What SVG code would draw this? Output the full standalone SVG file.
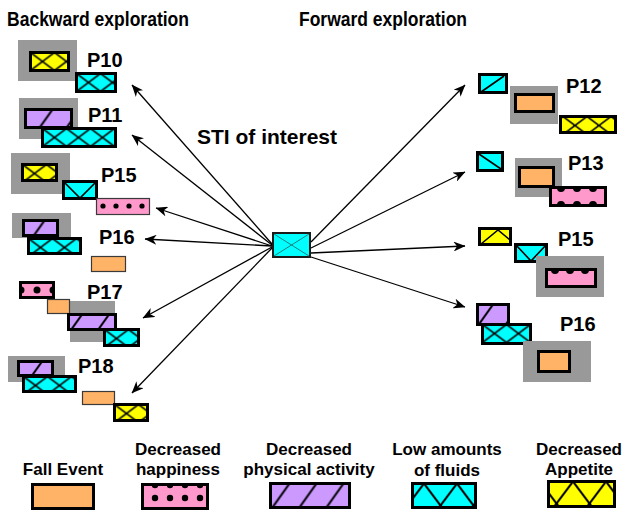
<svg xmlns="http://www.w3.org/2000/svg" width="624" height="513" viewBox="0 0 624 513">
<style>
.bg{fill:#ffffff}
.g{fill:#999999}
.bk{stroke:#000;stroke-width:3}
.tn{stroke:#3a3a3a;stroke-width:1.2}
.or{fill:#FFB366}
.pk{fill:#FF99CC}
.cy{fill:#00FFFF}
.ye{fill:#FFFF00}
.hx{fill:url(#hx)}
.hy{fill:url(#hy)}
.hp{fill:url(#hp)}
.hxL{fill:url(#hxL)}
.hyL{fill:url(#hyL)}
.ht{stroke:#000;stroke-width:1.6;fill:none}
.dot{fill:#000}
.t{font-family:"Liberation Sans",Arial,Helvetica,sans-serif;font-weight:bold;fill:#000}
.lb{font-size:20px}
.lg{font-size:17px;text-anchor:middle}
.arr{stroke:#000;stroke-width:1.3;fill:none;marker-end:url(#ah)}
</style>
<defs>
<marker id="ah" viewBox="0 0 12 10" refX="11.5" refY="5" markerWidth="12" markerHeight="10" markerUnits="userSpaceOnUse" orient="auto">
<path d="M0,0 L12,5 L0,10 L3.5,5 Z" fill="#000"/>
</marker>
<pattern id="hx" patternUnits="userSpaceOnUse" width="24" height="18">
<rect width="24" height="18" fill="#00FFFF"/>
<path d="M0,0L24,18M24,0L0,18" stroke="#000" stroke-width="1.6"/>
</pattern>
<pattern id="hy" patternUnits="userSpaceOnUse" width="24" height="18">
<rect width="24" height="18" fill="#FFFF00"/>
<path d="M0,0L24,18M24,0L0,18" stroke="#000" stroke-width="1.6"/>
</pattern>
<pattern id="hxL" patternUnits="userSpaceOnUse" width="33" height="44">
<rect width="33" height="44" fill="#00FFFF"/>
<path d="M0,0L33,44M33,0L0,44" stroke="#000" stroke-width="2"/>
</pattern>
<pattern id="hyL" patternUnits="userSpaceOnUse" width="33" height="44">
<rect width="33" height="44" fill="#FFFF00"/>
<path d="M0,0L33,44M33,0L0,44" stroke="#000" stroke-width="2"/>
</pattern>
<pattern id="hp" patternUnits="userSpaceOnUse" width="27" height="38">
<rect width="27" height="38" fill="#CC99FF"/>
<path d="M0,38L27,0M-27,38L0,0M27,38L54,0" stroke="#000" stroke-width="2"/>
</pattern>
</defs>
<rect class="bg" width="624" height="513"/>

<text class="t lb" x="7" y="26" textLength="182" lengthAdjust="spacingAndGlyphs">Backward exploration</text>
<text class="t lb" x="299" y="26" textLength="168" lengthAdjust="spacingAndGlyphs">Forward exploration</text>
<text class="t" font-size="21" x="197" y="144">STI of interest</text>

<g id="connectors">
<path class="arr" d="M272,244 L132,85"/>
<path class="arr" d="M272,245 L132,135"/>
<path class="arr" d="M272,246 L156,208"/>
<path class="arr" d="M272,246 L145,239"/>
<path class="arr" d="M272,247 L143,318"/>
<path class="arr" d="M272,248 L132,393"/>
<path class="arr" d="M311,242 L465,85"/>
<path class="arr" d="M311,248 L465,172"/>
<path class="arr" d="M311,253 L465,246"/>
<path class="arr" d="M311,257 L465,307"/>
</g>

<g id="sti">
<rect x="273" y="233" width="37" height="24" fill="#00FFFF" stroke="#1a1a1a" stroke-width="2"/>
<path d="M274,234 L309,256 M309,234 L274,256" stroke="#1b8080" stroke-width="1" fill="none"/>
</g>

<g id="back-p10">
<rect class="g" x="18" y="40" width="59" height="41"/>
<rect class="hy bk" transform="translate(30.5,52.5)" width="38" height="18"/>
<rect class="hx bk" transform="translate(76.5,73.5)" width="39" height="18"/>
<text class="t lb" x="87" y="67">P10</text>
</g>

<g id="back-p11">
<rect class="g" x="19" y="98" width="59" height="41"/>
<rect class="hp bk" transform="translate(25.5,109.5)" width="46" height="18"/>
<rect class="hx bk" transform="translate(42.5,128.5)" width="73" height="18"/>
<text class="t lb" x="88" y="122">P11</text>
</g>

<g id="back-p15">
<rect class="g" x="11" y="153" width="59" height="41"/>
<rect class="hy bk" transform="translate(22.5,164.5)" width="34" height="16"/>
<rect class="cy bk" x="63.5" y="181.5" width="33" height="17"/>
<path class="ht" d="M64,182 L80,198 L96,182"/>
<rect class="pk tn" x="96.5" y="198.5" width="53" height="16"/>
<circle class="dot" cx="103" cy="206" r="2.6"/>
<circle class="dot" cx="116" cy="206" r="2.6"/>
<circle class="dot" cx="129" cy="206" r="2.6"/>
<circle class="dot" cx="142" cy="206" r="2.6"/>
<text class="t lb" x="101" y="182">P15</text>
</g>

<g id="back-p16">
<rect class="g" x="12" y="213" width="59" height="25"/>
<rect class="hp bk" transform="translate(17.5,220.5)" x="6" width="34" height="15"/>
<rect class="hx bk" transform="translate(28.5,238.5)" width="52" height="15"/>
<rect class="or tn" x="91.5" y="256.5" width="34" height="15"/>
<text class="t lb" x="99" y="244">P16</text>
</g>

<g id="back-p17">
<rect class="g" x="70" y="301" width="45" height="41"/>
<rect class="pk bk" x="20.5" y="282.5" width="33" height="15"/>
<circle class="dot" cx="37" cy="290" r="3.5"/>
<path class="dot" d="M21,286.5 A3.5,3.5 0 0 1 21,293.5 Z M53,286.5 A3.5,3.5 0 0 0 53,293.5 Z"/>
<rect class="or tn" x="47.5" y="299.5" width="22" height="14"/>
<rect class="hp bk" transform="translate(55,314.5)" x="13.5" width="47" height="15"/>
<rect class="hx bk" transform="translate(104.5,329.5)" width="34" height="16"/>
<text class="t lb" x="87" y="299">P17</text>
</g>

<g id="back-p18">
<rect class="g" x="8" y="356" width="57" height="26"/>
<rect class="hp bk" transform="translate(15,361.5)" x="3.5" width="34" height="14"/>
<rect class="hx bk" transform="translate(23.5,376.5)" width="52" height="15"/>
<rect class="or tn" x="82.5" y="391.5" width="32" height="13"/>
<rect class="hy bk" transform="translate(114.5,404.5)" width="33" height="16"/>
<text class="t lb" x="78" y="373">P18</text>
</g>

<g id="fwd-p12">
<rect class="cy bk" x="479.5" y="74.5" width="27" height="18"/>
<path class="ht" d="M481,92 L504,76"/>
<rect class="g" x="510" y="86" width="48" height="38"/>
<rect class="or bk" x="515.5" y="94.5" width="38" height="17"/>
<rect class="hy bk" transform="translate(563,116.5)" x="-2.5" width="55" height="16"/>
<text class="t lb" x="566" y="93">P12</text>
</g>

<g id="fwd-p13">
<rect class="cy bk" x="477.5" y="152.5" width="25" height="18"/>
<path class="ht" d="M479,154 L501,169"/>
<rect class="g" x="515" y="158" width="47" height="39"/>
<rect class="or bk" x="519.5" y="167.5" width="34" height="19"/>
<rect class="pk bk" x="550.5" y="187.5" width="55" height="18"/>
<path class="dot" d="M557,188 A4,4 0 0 0 565,188 Z M573,188 A4,4 0 0 0 581,188 Z M589,188 A4,4 0 0 0 597,188 Z M557,205 A4,4 0 0 1 565,205 Z M573,205 A4,4 0 0 1 581,205 Z M589,205 A4,4 0 0 1 597,205 Z"/>
<text class="t lb" x="568" y="170">P13</text>
</g>

<g id="fwd-p15">
<rect class="ye bk" x="479.5" y="228.5" width="31" height="16"/>
<path class="ht" d="M481,244 L498,230 L510,240"/>
<rect class="cy bk" x="515.5" y="244.5" width="31" height="17"/>
<path class="ht" d="M516,245 L531,261 L546,245"/>
<rect class="g" x="536" y="256" width="68" height="41"/>
<rect class="pk bk" x="546.5" y="269.5" width="49" height="17"/>
<path class="dot" d="M551,270 A4,4 0 0 0 559,270 Z M566,270 A4,4 0 0 0 574,270 Z M581,270 A4,4 0 0 0 589,270 Z"/>
<text class="t lb" x="558" y="246">P15</text>
</g>

<g id="fwd-p16">
<rect class="hp bk" transform="translate(466,304.5)" x="11.5" width="31" height="20"/>
<rect class="hx bk" transform="translate(482.5,324.5)" width="48" height="19"/>
<rect class="g" x="523" y="341" width="68" height="41"/>
<rect class="or bk" x="538.5" y="351.5" width="31" height="20"/>
<text class="t lb" x="560" y="331">P16</text>
</g>

<g id="legend">
<g id="leg-fall">
<text class="t lg" x="63" y="475">Fall Event</text>
<rect class="or bk" x="32.5" y="484.5" width="61" height="24"/>
</g>
<g id="leg-happiness">
<text class="t lg" x="178" y="455">Decreased</text>
<text class="t lg" x="178" y="475">happiness</text>
<rect class="pk bk" x="142.5" y="484.5" width="65" height="24"/>
<path class="dot" d="M151.8,485 A3.2,3.2 0 0 0 158.2,485 Z M166.8,485 A3.2,3.2 0 0 0 173.2,485 Z M181.8,485 A3.2,3.2 0 0 0 188.2,485 Z M196.8,485 A3.2,3.2 0 0 0 203.2,485 Z"/>
<circle class="dot" cx="155" cy="498" r="3.2"/>
<circle class="dot" cx="170" cy="498" r="3.2"/>
<circle class="dot" cx="185" cy="498" r="3.2"/>
<circle class="dot" cx="200" cy="498" r="3.2"/>
</g>
<g id="leg-activity">
<text class="t lg" x="309" y="455">Decreased</text>
<text class="t lg" x="309" y="475">physical activity</text>
<rect class="hp bk" transform="translate(262.5,483.5)" x="8" width="79" height="24"/>
</g>
<g id="leg-fluids">
<text class="t lg" x="447" y="455">Low amounts</text>
<text class="t lg" x="447" y="476">of fluids</text>
<rect class="hxL bk" transform="translate(424,483.5)" x="-11.5" width="63" height="24"/>
</g>
<g id="leg-appetite">
<text class="t lg" x="579" y="455">Decreased</text>
<text class="t lg" x="579" y="475">Appetite</text>
<rect class="hyL bk" transform="translate(573,481.5)" x="-24.5" width="66" height="25"/>
</g>
</g>
</svg>
